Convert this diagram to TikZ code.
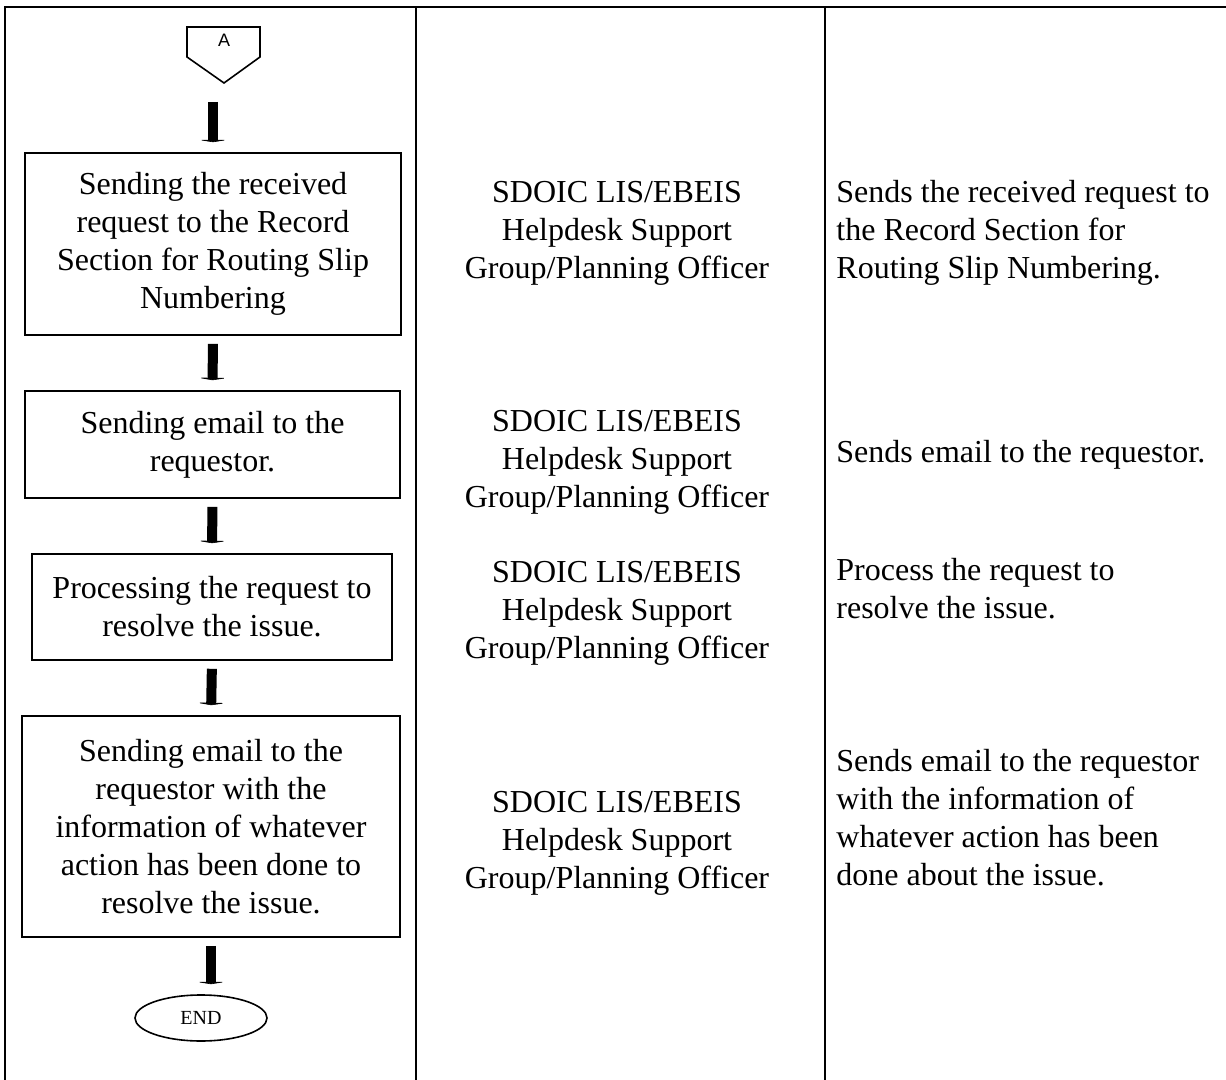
\documentclass[tikz,border=0pt]{standalone}
\usepackage{fontspec}
\setmainfont{Liberation Serif}
\setsansfont{Liberation Sans}
\usetikzlibrary{arrows.meta,shapes.geometric}

\begin{document}
\begin{tikzpicture}[x=0.5pt, y=-0.5pt,
    tableline/.style={line width=1pt},
    stepbox/.style={draw, line width=0.8pt, rectangle, align=center, inner sep=0pt, font=\fontsize{16}{19}\selectfont},
    roletext/.style={align=center, inner sep=0pt, font=\fontsize{16}{19}\selectfont},
    desctext/.style={align=left, anchor=west, inner sep=0pt, font=\fontsize{16}{19}\selectfont},
    flowarrow/.style={line width=5pt, -{Triangle[width=15pt,length=1.2pt]}, shorten <=4pt, shorten >=5pt}]

    \useasboundingbox (0,0) rectangle (1226,1080);

    % Table frame
    \draw[tableline] (5,1080) -- (5,7) -- (1226,7);
    \draw[tableline] (416,7) -- (416,1080);
    \draw[tableline] (825,7) -- (825,1080);

    % Off-page connector
    \node[inner sep=0pt, font=\sffamily\fontsize{9}{10}\selectfont] (conA) at (224,40) {A};
    \draw[line width=0.8pt] (187,27) -- (260,27) -- (260,57) -- (224,83) -- (187,57) -- cycle;
    \coordinate (conAtip) at (224,83);

    % Steps
    \node[stepbox, minimum width=188pt, minimum height=91pt] (box1) at (213,244) {
        Sending the received\\
        request to the Record\\
        Section for Routing Slip\\
        Numbering};

    \node[stepbox, minimum width=187.5pt, minimum height=53.5pt] (box2) at (212.5,444.5) {
        Sending email to the\\
        requestor.};

    \node[stepbox, minimum width=180pt, minimum height=53pt] (box3) at (212,607) {
        Processing the request to\\
        resolve the issue.};

    \node[stepbox, minimum width=189pt, minimum height=110.5pt] (box4) at (211,826.5) {
        Sending email to the\\
        requestor with the\\
        information of whatever\\
        action has been done to\\
        resolve the issue.};

    % End
    \node[draw, ellipse, line width=0.8pt, inner sep=0pt, minimum width=66pt, minimum height=23pt,
          font=\fontsize{10}{12}\selectfont] (endnode) at (201,1018) {END};

    % Flow arrows
    \draw[flowarrow, shorten <=9.5pt] (conAtip -| box1.north) -- (box1.north);
    \draw[flowarrow] (box1.south) -- (box2.north);
    \draw[flowarrow] (box2.south) -- (box3.north);
    \draw[flowarrow] (box3.south) -- (box4.north);
    \draw[flowarrow] (box4.south) -- (box4.south |- endnode.north);

    % Responsible persons
    \node[roletext] (role1) at (617,233) {SDOIC LIS/EBEIS\\ Helpdesk Support\\ Group/Planning Officer};
    \node[roletext] (role2) at (617,462) {SDOIC LIS/EBEIS\\ Helpdesk Support\\ Group/Planning Officer};
    \node[roletext] (role3) at (617,613) {SDOIC LIS/EBEIS\\ Helpdesk Support\\ Group/Planning Officer};
    \node[roletext] (role4) at (617,843) {SDOIC LIS/EBEIS\\ Helpdesk Support\\ Group/Planning Officer};

    % Descriptions
    \node[desctext] (desc1) at (836,233) {Sends the received request to\\ the Record Section for\\ Routing Slip Numbering.};
    \node[desctext] (desc2) at (836,455) {Sends email to the requestor.};
    \node[desctext] (desc3) at (836,589) {Process the request to\\ resolve the issue.};
    \node[desctext] (desc4) at (836,818) {Sends email to the requestor\\ with the information of\\ whatever action has been\\ done about the issue.};

\end{tikzpicture}
\end{document}
